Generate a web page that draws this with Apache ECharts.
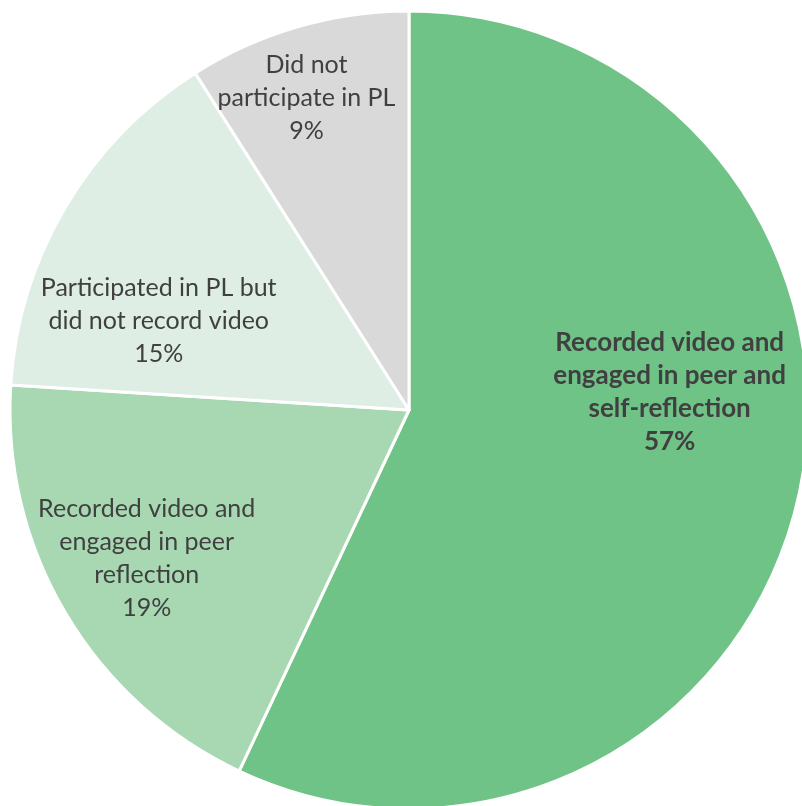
<!DOCTYPE html>
<html>
<head>
<meta charset="utf-8">
<script src="https://cdn.jsdelivr.net/npm/echarts@6/dist/echarts.min.js"></script>
<style>
  html, body { margin: 0; padding: 0; background: #ffffff; }
  #chart { width: 802px; height: 806px; }
</style>
</head>
<body>
<div id="chart"></div>
<script>
// Professional learning participation shares
const categories = [
  'Recorded video and\nengaged in peer and\nself-reflection',
  'Recorded video and\nengaged in peer\nreflection',
  'Participated in PL but\ndid not record video',
  'Did not\nparticipate in PL'
];
const shares = [57, 19, 15, 9];

// Slice fills and label nudges away from the default mid-radius spot
const sliceColors = ['#70C387', '#A7D8B2', '#DEEEE4', '#D9D9D9'];
const labelOffsets = [[63, -62], [-88, 45], [-76, 14], [-46, -118]];
const boldLabel = [true, false, false, false];

const chart = echarts.init(document.getElementById('chart'), null, { renderer: 'canvas' });

chart.setOption({
  animation: false,
  series: [{
    type: 'pie',
    center: [409, 410],
    radius: 399,
    startAngle: 90,
    clockwise: true,
    avoidLabelOverlap: false,
    itemStyle: { borderColor: '#ffffff', borderWidth: 3 },
    label: {
      position: 'inside',
      fontFamily: 'Lato, "Open Sans", sans-serif',
      fontSize: 25,
      lineHeight: 33,
      color: '#404040',
      align: 'center',
      formatter: p => p.name + '\n' + p.value + '%'
    },
    labelLine: { show: false },
    emphasis: { disabled: true },
    data: categories.map((name, i) => ({
      name,
      value: shares[i],
      itemStyle: { color: sliceColors[i] },
      label: {
        offset: labelOffsets[i],
        fontWeight: boldLabel[i] ? 'bold' : 'normal',
        fontSize: boldLabel[i] ? 26 : 25
      }
    }))
  }]
});
</script>
</body>
</html>
